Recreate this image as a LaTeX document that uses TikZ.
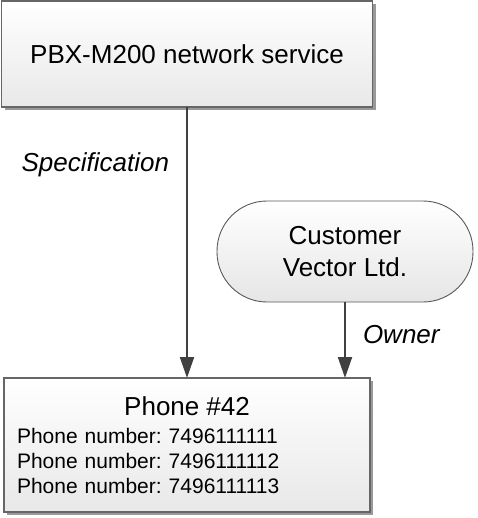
\documentclass[tikz,border=0pt]{standalone}
\usepackage{fontspec}
\setmainfont{Liberation Sans}
\frenchspacing
\usetikzlibrary{arrows.meta,shadows,positioning}
\tikzset{
  block/.style={draw=black!60, line width=1.2pt, top color=white, bottom color=black!9,
    outer sep=0pt, drop shadow={shadow xshift=3pt, shadow yshift=-3pt, fill=black!40, opacity=1},
    font=\fontsize{26}{32}\selectfont},
  party/.style={draw=black!65, line width=0.9pt, rounded corners=50pt, top color=white,
    bottom color=black!10, outer sep=0pt, align=center, font=\fontsize{26}{32}\selectfont},
  link/.style={draw=black!75, line width=2pt, -{Triangle[length=21pt,width=14pt]}},
  role/.style={font=\fontsize{26}{32}\selectfont\itshape, inner sep=0pt}
}
\begin{document}
\begin{tikzpicture}[x=1pt,y=-1pt]
  \useasboundingbox (0,0) rectangle (477,518);
  % Draw service box
  \node[block, minimum width=371pt, minimum height=106pt] (service) at (187,54)
        {PBX-M200 network service};
  % Draw customer
  \node[party, minimum width=256pt, minimum height=101pt] (customer) at (345,251.5)
        {Customer\\Vector Ltd.};
  % Draw phone box
  \node[block, minimum width=366pt, minimum height=134pt, text width=340pt,
        inner xsep=13pt, align=left, font=\fontsize{21}{25}\selectfont] (phone) at (187,445)
        {\makebox[\linewidth]{\fontsize{26}{32}\selectfont Phone \#42}\\[3pt]
         Phone number: 7496111111\\
         Phone number: 7496111112\\
         Phone number: 7496111113};
  % Draw links
  \draw[link] (service.south) -- node[role, pos=0.215, left=17pt] (spec) {Specification} (phone.north);
  \draw[link] (customer.south) -- node[role, midway, right=17pt, yshift=5pt] (owner) {Owner}
        (customer.south |- phone.north);
\end{tikzpicture}
\end{document}
